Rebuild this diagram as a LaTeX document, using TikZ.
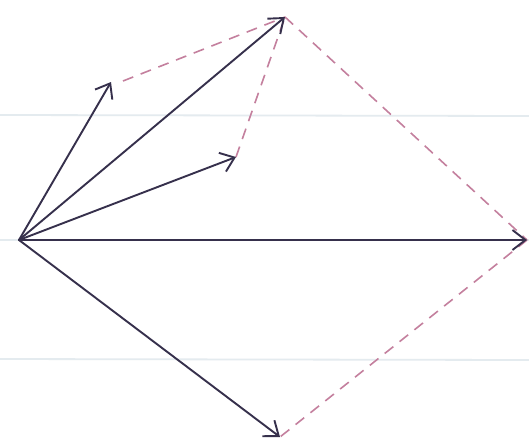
\documentclass[tikz,border=0pt]{standalone}
\usetikzlibrary{arrows.meta}
\definecolor{vec}{HTML}{36304C}
\definecolor{dash}{HTML}{C4809E}
\definecolor{rule}{HTML}{E4EBEF}
\tikzset{
  vector/.style={draw=vec, line width=1.9pt, line cap=round, -{Straight Barb[length=13pt,width=20pt,line width=1.9pt]}},
  helper/.style={draw=dash, line width=1.6pt, dash pattern=on 11pt off 8pt},
  ruling/.style={draw=rule, line width=1.8pt},
}
\begin{document}
\begin{tikzpicture}[x=1pt,y=-1pt]
  \useasboundingbox (0,0) rectangle (529,442);
  \fill[white] (0,0) rectangle (529,442);
  % ruled paper lines
  \coordinate (r1a) at (0,115); \coordinate (r1b) at (529,116);
  \coordinate (r2a) at (0,240); \coordinate (r2b) at (529,240);
  \coordinate (r3a) at (0,359); \coordinate (r3b) at (529,360);
  \draw[ruling] (r1a) -- (r1b);
  \draw[ruling] (r2a) -- (r2b);
  \draw[ruling] (r3a) -- (r3b);
  % points
  \coordinate (O) at (19,240);
  \coordinate (A) at (111,82);
  \coordinate (S) at (285,17);
  \coordinate (B) at (236,157);
  \coordinate (R) at (527,240);
  \coordinate (C) at (280,437);
  \coordinate (Ad) at (123,81);
  % dashed construction lines
  \draw[helper] (Ad) -- (S);
  \draw[helper] (B) -- (S);
  \draw[helper] (S) -- (R);
  \draw[helper] (R) -- (C);
  % vectors
  \draw[vector] (O) -- (A);
  \draw[vector] (O) -- (S);
  \draw[vector] (O) -- (B);
  \draw[vector] (O) -- (R);
  \draw[vector] (O) -- (C);
\end{tikzpicture}
\end{document}
